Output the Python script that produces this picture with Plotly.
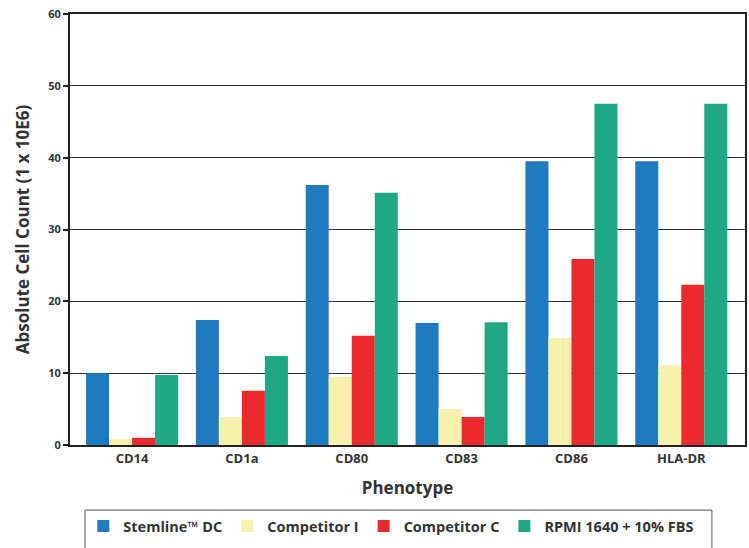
import plotly.graph_objects as go

categories = ["CD14", "CD1a", "CD80", "CD83", "CD86", "HLA-DR"]
series_names = ["Stemline™ DC", "Competitor I", "Competitor C", "RPMI 1640 + 10% FBS"]
stemline = [10.0, 17.4, 36.2, 17.0, 39.5, 39.5]
competitor_i = [0.8, 3.9, 9.5, 5.0, 14.9, 11.1]
competitor_c = [1.0, 7.55, 15.2, 3.9, 25.9, 22.3]
rpmi = [9.75, 12.4, 35.1, 17.1, 47.5, 47.5]
colors = ["#1f7bbf", "#f7f1ad", "#ec2a2e", "#1ea886"]
y_ticks = [0, 10, 20, 30, 40, 50, 60]

font_family = "Open Sans, Noto Sans, sans-serif"
fig = go.Figure()
for name, vals, col in zip(series_names, [stemline, competitor_i, competitor_c, rpmi], colors):
    fig.add_trace(go.Bar(x=categories, y=vals, name=name, marker=dict(color=col, line=dict(width=0))))

fig.update_layout(
    width=749, height=548,
    margin=dict(l=70, r=4, t=14, b=103, autoexpand=False),
    barmode="group", bargap=0.162, bargroupgap=0,
    plot_bgcolor="white", paper_bgcolor="white",
    font=dict(family=font_family, color="#333333"),
    showlegend=True,
    legend=dict(orientation="h", x=0.476, xanchor="center", y=-0.151, yanchor="top",
                borderwidth=0, bgcolor="rgba(0,0,0,0)",
                font=dict(size=14.5, family=font_family, color="#333333", weight="bold"),
                traceorder="normal"),
    shapes=[dict(type="rect", xref="paper", yref="paper",
                 x0=0.0222, x1=0.951, y0=-0.151, y1=-0.27,
                 line=dict(color="#555555", width=1), fillcolor="rgba(0,0,0,0)", layer="below")],
)
fig.update_xaxes(
    range=[-0.565, 5.58], automargin=False,
    showline=True, linecolor="#222222", linewidth=2, mirror=True,
    ticks="", showgrid=False,
    tickfont=dict(size=13, family=font_family, color="#333333", weight="bold"),
    title=dict(text="Phenotype", font=dict(size=17, family=font_family, color="#333333", weight="bold"), standoff=17),
)
fig.update_yaxes(
    range=[0, 60], tickvals=y_ticks, automargin=False,
    showline=True, linecolor="#222222", linewidth=2, mirror=True,
    ticks="outside", ticklen=5, tickcolor="#222222", tickwidth=1.5,
    showgrid=True, gridcolor="#333333", gridwidth=1, zeroline=False,
    tickfont=dict(size=11, family=font_family, color="#333333", weight="bold"),
    title=dict(text="Absolute Cell Count (1 x 10E6)", font=dict(size=17, family=font_family, color="#333333", weight="bold"), standoff=14),
)
fig.write_html("out.html", config={"displayModeBar": False},
               post_script="document.body.style.margin='0';document.body.style.overflow='hidden';")
